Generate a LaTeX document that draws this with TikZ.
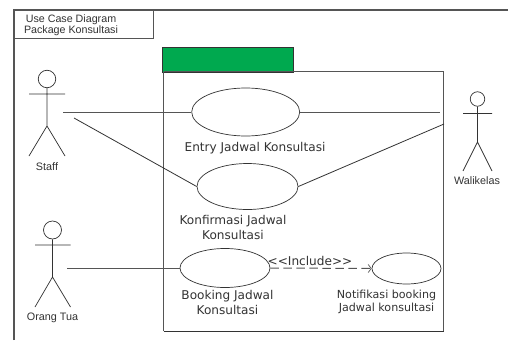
\documentclass[tikz,border=0pt]{standalone}
\usepackage{fontspec}
\setmainfont{DejaVu Sans}
\newfontfamily\actorfont{Liberation Sans}
\usetikzlibrary{shapes.geometric,arrows.meta}
\definecolor{ln}{HTML}{555555}
\definecolor{tx}{HTML}{333333}
\definecolor{grn}{HTML}{00A94F}
\tikzset{
 frameline/.style={draw=ln,line width=1.2pt},
 thinline/.style={draw=tx,line width=0.7pt},
 conn/.style={draw=ln,line width=0.9pt},
 usecase/.style={ellipse,draw=tx,line width=0.7pt,inner sep=0pt,minimum width=#1},
 uclabel/.style={font=\fontsize{12.1}{15}\selectfont,text=tx,align=center,inner sep=0pt},
 actorlabel/.style={font=\actorfont\fontsize{10.8}{12}\selectfont,text=tx,inner sep=0pt},
 head/.style={circle,draw=tx,line width=0.7pt,inner sep=0pt,minimum size=#1},
}
\begin{document}
\begin{tikzpicture}[x=1pt,y=-1pt]
\useasboundingbox (0,0) rectangle (508,340);
\fill[white] (0,0) rectangle (508,340);
% outer frame
\draw[frameline] (14,340) -- (14,10) -- (508,10);
\node[draw=ln,line width=1pt,minimum width=139pt,minimum height=28pt,inner sep=0pt,anchor=north west] (title) at (14,10) {};
\node[font=\actorfont\fontsize{10.7}{11.5}\selectfont,text=tx,align=center,inner sep=0pt] (titletext) at (71,25) {Use Case Diagram\\Package Konsultasi};
% package
\node[draw=tx,fill=grn,line width=0.8pt,minimum width=131pt,minimum height=24.5pt,inner sep=0pt,anchor=north west] (tab) at (162,47) {};
\draw[frameline] (163.5,71.5) -- (443.8,71.5) -- (443.8,331);
\draw[frameline] (163.5,71.5) -- (163.5,331);
\draw[draw=tx,line width=1pt] (163.5,331) -- (443.8,331);
% use cases
\node[usecase=108pt,minimum height=48pt] (uc1) at (245.7,112) {};
\node[usecase=101pt,minimum height=46pt] (uc2) at (247.5,186.5) {};
\node[usecase=90pt,minimum height=39pt] (uc3) at (225,268) {};
\node[usecase=69pt,minimum height=31pt] (uc4) at (406.5,268.5) {};
\node[uclabel] (l1) at (255,148) {Entry Jadwal Konsultasi};
\node[uclabel] (l2) at (233,227) {Konfirmasi Jadwal\\Konsultasi};
\node[uclabel] (l3) at (227.5,302.5) {Booking Jadwal\\Konsultasi};
\node[uclabel,font=\fontsize{11.1}{13.2}\selectfont] (l4) at (386.5,301.5) {Notifikasi booking\\Jadwal konsultasi};
\node[font=\fontsize{12.1}{14}\selectfont,text=tx,inner sep=0pt] (inc) at (310,260.5) {<{}<Include>{}>};
% actor Staff
\node[head=17.5pt] (h1) at (47,79) {};
\coordinate (s1) at (47,126);
\coordinate (a1l) at (29,94); \coordinate (a1r) at (65,94);
\coordinate (f1l) at (29,156); \coordinate (f1r) at (65,156);
\draw[thinline] (h1) -- (s1) (a1l) -- (a1r) (f1l) -- (s1) -- (f1r);
\node[actorlabel] (n1) at (47,166.5) {Staff};
% actor Orang Tua
\node[head=18pt] (h2) at (52.5,230) {};
\coordinate (s2) at (52.5,277);
\coordinate (a2l) at (35,245); \coordinate (a2r) at (70.5,245);
\coordinate (f2l) at (35,307); \coordinate (f2r) at (70.5,307);
\draw[thinline] (h2) -- (s2) (a2l) -- (a2r) (f2l) -- (s2) -- (f2r);
\node[actorlabel] (n2) at (52.5,317.5) {Orang Tua};
% actor Walikelas
\node[head=14.5pt] (h3) at (477.5,99) {};
\coordinate (s3) at (477.5,142);
\coordinate (a3l) at (463,113.5); \coordinate (a3r) at (492,113.5);
\coordinate (f3l) at (463,171); \coordinate (f3r) at (492,171);
\draw[thinline] (h3) -- (s3) (a3l) -- (a3r) (f3l) -- (s3) -- (f3r);
\node[actorlabel] (n3) at (477,180.5) {Walikelas};
% connectors
\coordinate (c1) at (63,112); \coordinate (c2) at (74,118); \coordinate (c3) at (67,268);
\coordinate (c4) at (440,112); \coordinate (c5) at (444,124);
\draw[conn] (c1) -- (uc1.west);
\draw[conn,draw=tx,line width=.8pt] (c2) -- (uc2.west);
\draw[conn] (c3) -- (uc3.west);
\draw[conn] (uc1.east) -- (c4);
\draw[conn,draw=tx,line width=.8pt] (uc2.east) -- (c5);
\draw[conn,line width=1pt,dash pattern=on 8.5pt off 4.5pt,-{Straight Barb[length=3pt,width=8pt,line width=.7pt]}] (uc3.east) -- (uc4.west);
\end{tikzpicture}
\end{document}
